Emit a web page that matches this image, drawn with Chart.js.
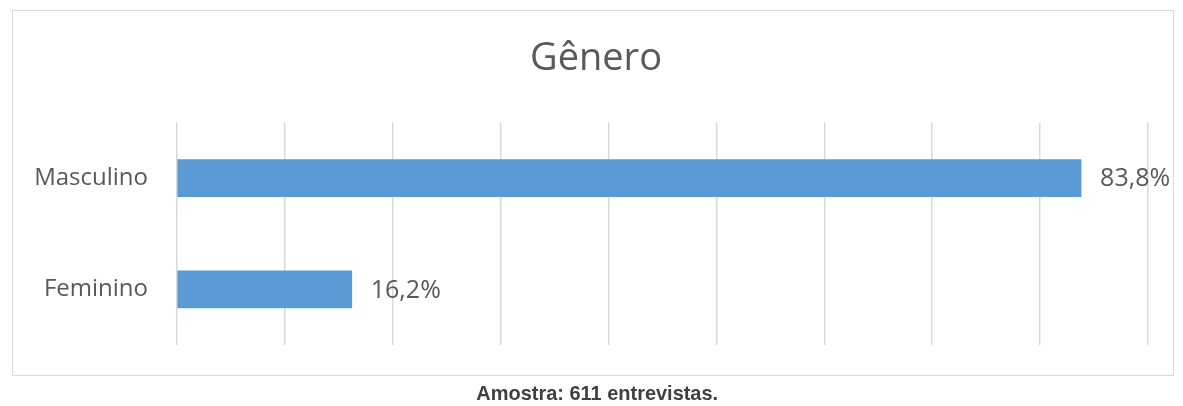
<!DOCTYPE html>
<html>
<head>
<meta charset="utf-8">
<script src="https://cdn.jsdelivr.net/npm/chart.js@4.4.1/dist/chart.umd.min.js"></script>
<style>
  html, body { margin: 0; padding: 0; background: #fff; }
  #wrap { position: relative; width: 1183px; height: 406px; overflow: hidden; }
  #frame { position: absolute; left: 12px; top: 10px; width: 1160px; height: 364px; border: 1.5px solid #d9d9d9; box-sizing: content-box; }
  #c { position: absolute; left: 0; top: 0; }
  #note { position: absolute; left: 0; width: 1194px; top: 381px; text-align: center; }
  #note span { display: inline-block; transform: scaleX(0.95); transform-origin: center;
          font-family: 'Liberation Sans', Arial, sans-serif; font-weight: bold;
          font-size: 21px; color: #404040; }
</style>
</head>
<body>
<div id="wrap">
  <div id="frame"></div>
  <canvas id="c" width="1183" height="406"></canvas>
  <div id="note"><span>Amostra: 611 entrevistas.</span></div>
</div>
<script>
const chartTitle = 'Gênero';
const categories = ['Masculino', 'Feminino'];
const values = [83.8, 16.2];
const axisMax = 90;
const axisStep = 10;

const FONT = "'Open Sans', sans-serif";
const TXT = '#595959';

const valueLabels = {
  id: 'valueLabels',
  afterDatasetsDraw(chart) {
    const ctx = chart.ctx;
    const meta = chart.getDatasetMeta(0);
    ctx.save();
    ctx.font = "25px " + FONT;
    ctx.fillStyle = TXT;
    ctx.textBaseline = 'middle';
    ctx.textAlign = 'left';
    meta.data.forEach((bar, i) => {
      const v = values[i];
      ctx.fillText(v.toFixed(1).replace('.', ',') + '%', bar.x + 19, bar.y + 1);
    });
    ctx.restore();
  }
};

new Chart(document.getElementById('c'), {
  type: 'bar',
  data: {
    labels: categories,
    datasets: [{
      data: values,
      backgroundColor: '#5b9bd5',
      borderColor: '#5b9bd5',
      borderWidth: 0,
      barThickness: 37
    }]
  },
  plugins: [valueLabels],
  options: {
    indexAxis: 'y',
    responsive: false,
    animation: false,
    devicePixelRatio: 1,
    layout: { padding: { left: 9, right: 0, top: 0, bottom: 61 } },
    plugins: {
      legend: { display: false },
      tooltip: { enabled: false },
      title: {
        display: true,
        text: chartTitle,
        color: TXT,
        font: { family: FONT, size: 38, weight: 'normal', lineHeight: 1.2 },
        padding: { top: 36, bottom: 41 }
      }
    },
    scales: {
      x: {
        min: 0, max: axisMax,
        ticks: { display: false, stepSize: axisStep },
        grid: { color: '#d9d9d9', lineWidth: 1.5, drawTicks: false },
        border: { display: false },
        afterFit(s) { s.height = 0; }
      },
      y: {
        ticks: { color: TXT, font: { family: FONT, size: 24 }, padding: 29 },
        grid: { display: false, drawTicks: false },
        border: { display: false },
        afterFit(s) { s.width = 168; }
      },
      yRight: {
        type: 'category',
        labels: categories,
        position: 'right',
        ticks: { display: false },
        grid: { display: false, drawTicks: false },
        border: { display: false },
        afterFit(s) { s.width = 35; }
      }
    }
  }
});
</script>
</body>
</html>
